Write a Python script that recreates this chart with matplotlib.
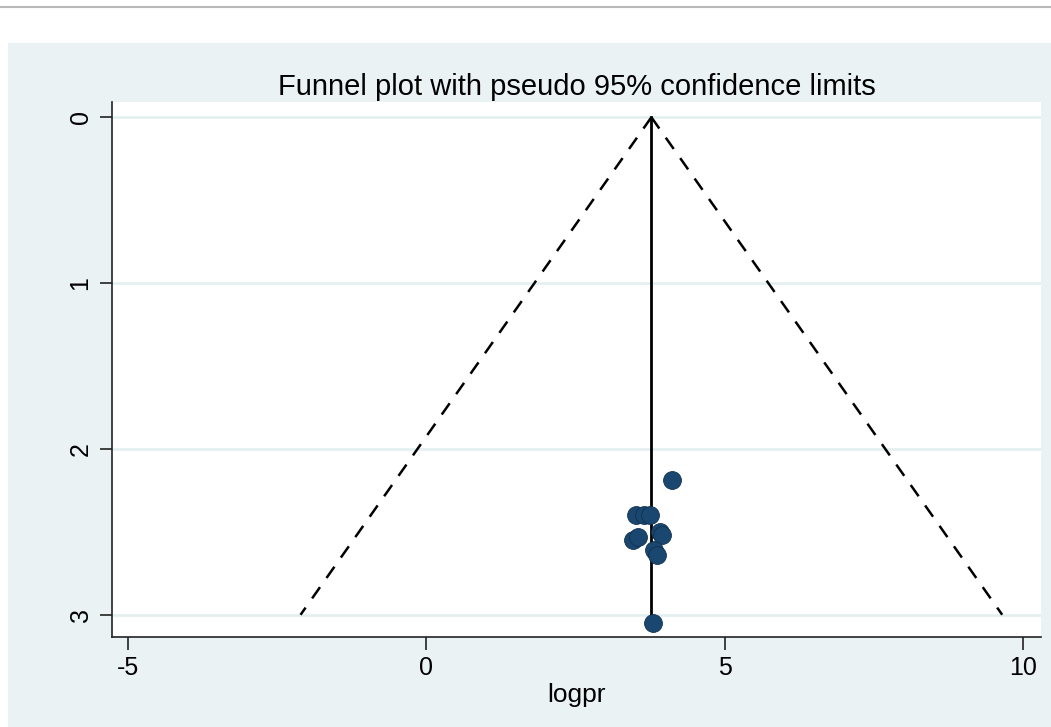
import numpy as np
import matplotlib.pyplot as plt
from matplotlib.patches import Rectangle
from matplotlib.lines import Line2D

plt.rcParams['font.family'] = ['Liberation Sans', 'DejaVu Sans']
plt.rcParams['axes.unicode_minus'] = False

# study estimates (logpr) and standard errors
logpr = [4.11, 3.51, 3.65, 3.75, 3.91, 3.95, 3.46, 3.55, 3.82, 3.86, 3.79]
se = [2.19, 2.40, 2.40, 2.40, 2.50, 2.52, 2.55, 2.53, 2.61, 2.64, 3.05]
pooled = 3.77
se_max = 3.0

bg = '#eaf2f3'
fig = plt.figure(figsize=(10.51, 7.27), dpi=100, facecolor='white')
fig.patches.append(Rectangle((8 / 1051, 0), 1, (727 - 43) / 727, transform=fig.transFigure,
                             facecolor=bg, edgecolor='none', zorder=-5))
fig.lines.append(Line2D([0, 1], [1 - 7 / 727, 1 - 7 / 727], transform=fig.transFigure,
                        color='#b8b8b8', lw=1.5, zorder=-5))

ax = fig.add_axes([112 / 1051, 1 - 637 / 727, (1041 - 112) / 1051, (637 - 102) / 727])
ax.set_zorder(1)
ax.set_facecolor('white')

# pseudo 95% confidence limits
s = np.array([0, se_max])
ax.plot(pooled - 1.96 * s, s, color='black', ls=(0, (5.5, 4.5)), lw=1.8)
ax.plot(pooled + 1.96 * s, s, color='black', ls=(0, (5.5, 4.5)), lw=1.8)
ax.plot([pooled, pooled], [0, max(se)], color='black', lw=2)
ax.scatter(logpr, se, s=165, color='#1a476f', edgecolors='#10304f', linewidths=0.6, zorder=3)

ax.set_xlim(-5.27, 10.30)
ax.set_ylim(3.134, -0.092)
ax.set_xticks([-5, 0, 5, 10])
ax.set_yticks([0, 1, 2, 3])
ax.set_yticklabels(['0', '1', '2', '3'], rotation=90, va='center')
for y in [0, 1, 2, 3]:
    ax.axhline(y, color='#e3eeef', lw=1.8, zorder=0)

for side in ['top', 'right']:
    ax.spines[side].set_visible(False)
for side in ['left', 'bottom']:
    ax.spines[side].set_color('#222222')
    ax.spines[side].set_linewidth(1.2)
ax.tick_params(direction='out', length=9, width=1.2, color='#222222', labelsize=18, pad=5)

ax.set_xlabel('logpr', fontsize=19, labelpad=2)
ax.set_title('Funnel plot with pseudo 95% confidence limits', fontsize=21, pad=5)

fig.savefig('out.png', dpi=100, facecolor=fig.get_facecolor())
